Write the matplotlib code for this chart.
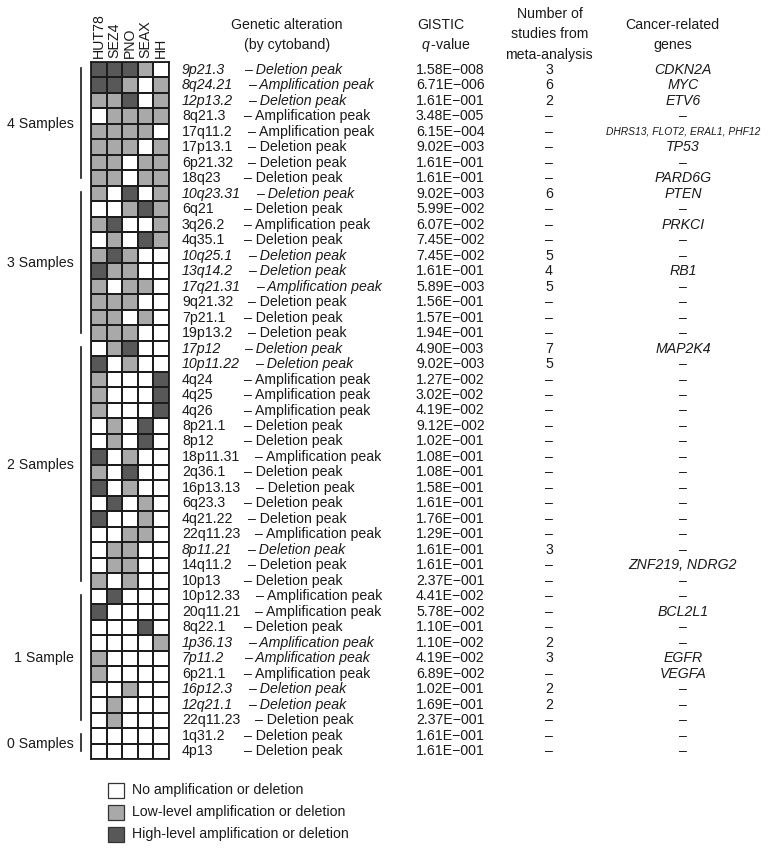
import numpy as np
import matplotlib
matplotlib.use('Agg')
import matplotlib.pyplot as plt
from matplotlib.colors import ListedColormap
from matplotlib import transforms
from matplotlib.patches import Rectangle

# ---------------- data ----------------
cell_lines = ['HUT78', 'SEZ4', 'PNO', 'SEAX', 'HH']

cytobands = ['9p21.3', '8q24.21', '12p13.2', '8q21.3', '17q11.2', '17p13.1', '6p21.32', '18q23',
             '10q23.31', '6q21', '3q26.2', '4q35.1', '10q25.1', '13q14.2', '17q21.31', '9q21.32',
             '7p21.1', '19p13.2',
             '17p12', '10p11.22', '4q24', '4q25', '4q26', '8p21.1', '8p12', '18p11.31', '2q36.1',
             '16p13.13', '6q23.3', '4q21.22', '22q11.23', '8p11.21', '14q11.2', '10p13',
             '10p12.33', '20q11.21', '8q22.1', '1p36.13', '7p11.2', '6p21.1', '16p12.3', '12q21.1',
             '22q11.23',
             '1q31.2', '4p13']

peak_types = ['Deletion', 'Amplification', 'Deletion', 'Amplification', 'Amplification', 'Deletion',
              'Deletion', 'Deletion',
              'Deletion', 'Deletion', 'Amplification', 'Deletion', 'Deletion', 'Deletion',
              'Amplification', 'Deletion', 'Deletion', 'Deletion',
              'Deletion', 'Deletion', 'Amplification', 'Amplification', 'Amplification', 'Deletion',
              'Deletion', 'Amplification', 'Deletion', 'Deletion', 'Deletion', 'Deletion',
              'Amplification', 'Deletion', 'Deletion', 'Deletion',
              'Amplification', 'Amplification', 'Deletion', 'Amplification', 'Amplification',
              'Amplification', 'Deletion', 'Deletion', 'Deletion',
              'Deletion', 'Deletion']

q_values = ['1.58E\u2212008', '6.71E\u2212006', '1.61E\u2212001', '3.48E\u2212005', '6.15E\u2212004',
            '9.02E\u2212003', '1.61E\u2212001', '1.61E\u2212001',
            '9.02E\u2212003', '5.99E\u2212002', '6.07E\u2212002', '7.45E\u2212002', '7.45E\u2212002',
            '1.61E\u2212001', '5.89E\u2212003', '1.56E\u2212001', '1.57E\u2212001', '1.94E\u2212001',
            '4.90E\u2212003', '9.02E\u2212003', '1.27E\u2212002', '3.02E\u2212002', '4.19E\u2212002',
            '9.12E\u2212002', '1.02E\u2212001', '1.08E\u2212001', '1.08E\u2212001', '1.58E\u2212001',
            '1.61E\u2212001', '1.76E\u2212001', '1.29E\u2212001', '1.61E\u2212001', '1.61E\u2212001',
            '2.37E\u2212001',
            '4.41E\u2212002', '5.78E\u2212002', '1.10E\u2212001', '1.10E\u2212002', '4.19E\u2212002',
            '6.89E\u2212002', '1.02E\u2212001', '1.69E\u2212001', '2.37E\u2212001',
            '1.61E\u2212001', '1.61E\u2212001']

studies = [3, 6, 2, None, None, None, None, None,
           6, None, None, None, 5, 4, 5, None, None, None,
           7, 5, None, None, None, None, None, None, None, None, None, None, None, 3, None, None,
           None, None, None, 2, 3, None, 2, 2, None,
           None, None]

genes = ['CDKN2A', 'MYC', 'ETV6', None, 'DHRS13, FLOT2, ERAL1, PHF12', 'TP53', None, 'PARD6G',
         'PTEN', None, 'PRKCI', None, None, 'RB1', None, None, None, None,
         'MAP2K4', None, None, None, None, None, None, None, None, None, None, None, None, None,
         'ZNF219, NDRG2', None,
         None, 'BCL2L1', None, None, 'EGFR', 'VEGFA', None, None, None,
         None, None]

# 0 = none, 1 = low-level, 2 = high-level
status = [
    [2, 2, 2, 1, 0], [2, 2, 1, 0, 1], [1, 1, 2, 0, 1], [0, 1, 1, 1, 1], [1, 1, 1, 1, 0],
    [1, 1, 1, 0, 1], [1, 1, 0, 1, 1], [1, 1, 0, 1, 1],
    [1, 0, 2, 0, 1], [0, 0, 1, 2, 1], [1, 2, 0, 0, 1], [0, 1, 0, 2, 1], [1, 2, 1, 0, 0],
    [2, 1, 1, 0, 0], [1, 0, 1, 1, 0], [1, 1, 1, 0, 0], [1, 1, 0, 1, 0], [1, 1, 1, 0, 0],
    [0, 1, 2, 0, 0], [2, 0, 1, 0, 0], [1, 0, 0, 0, 2], [1, 0, 0, 0, 2], [1, 0, 0, 0, 2],
    [0, 1, 0, 2, 0], [0, 1, 0, 2, 0], [2, 0, 1, 0, 0], [1, 0, 2, 0, 0], [2, 0, 1, 0, 0],
    [0, 2, 0, 1, 0], [2, 0, 0, 1, 0], [0, 0, 1, 1, 0], [0, 1, 1, 0, 0], [0, 1, 1, 0, 0],
    [1, 0, 1, 0, 0],
    [0, 2, 0, 0, 0], [2, 0, 0, 0, 0], [0, 0, 0, 2, 0], [0, 0, 0, 0, 1], [1, 0, 0, 0, 0],
    [1, 0, 0, 0, 0], [0, 0, 1, 0, 0], [0, 1, 0, 0, 0], [0, 1, 0, 0, 0],
    [0, 0, 0, 0, 0], [0, 0, 0, 0, 0],
]

legend_labels = ['No amplification or deletion', 'Low-level amplification or deletion',
                 'High-level amplification or deletion']

# ---------------- style ----------------
plt.rcParams['font.family'] = ['Liberation Sans', 'DejaVu Sans']
plt.rcParams['mathtext.fontset'] = 'custom'
plt.rcParams['mathtext.it'] = 'Liberation Sans:italic'
plt.rcParams['mathtext.rm'] = 'Liberation Sans'

colors = ['#ffffff', '#a9a9a9', '#585858']
edge = '#1c1c1c'
tc = '#1a1a1a'
FS = 10.2

W, H = 771, 852
fig = plt.figure(figsize=(W / 100, H / 100), dpi=100)


def fx(px):
    return px / W


def fy(py):
    return 1 - py / H


top, bot = 62, 759
ax = fig.add_axes([fx(91), fy(bot), (168.5 - 91) / W, (bot - top) / H])
mat = np.array(status)
n = mat.shape[0]
ax.pcolormesh(mat, cmap=ListedColormap(colors), vmin=-0.5, vmax=2.5,
              edgecolors=edge, linewidth=1.2)
ax.set_xlim(0, mat.shape[1])
ax.set_ylim(n, 0)
ax.xaxis.tick_top()
ax.set_xticks(np.arange(len(cell_lines)) + 0.5)
ax.set_xticklabels(cell_lines, rotation=90, fontsize=FS, color=tc)
ax.set_yticks([])
ax.tick_params(length=0, pad=3)
for s in ax.spines.values():
    s.set_linewidth(1.3)
    s.set_color(edge)

trans = transforms.blended_transform_factory(fig.transFigure, ax.transData)
renderer = fig.canvas.get_renderer()

# ---------------- row texts ----------------
for i in range(n):
    y = i + 0.5
    st = 'italic' if studies[i] is not None else 'normal'
    t = fig.text(fx(182), y, cytobands[i], transform=trans, ha='left', va='center',
                 fontsize=FS, style=st, color=tc)
    x1 = t.get_window_extent(renderer).x1
    xd = max(x1 + 15, 244)
    fig.text(fx(xd), y, '\u2013 ' + peak_types[i] + ' peak', transform=trans, ha='left',
             va='center', fontsize=FS, style=st, color=tc)
    fig.text(fx(416), y, q_values[i], transform=trans, ha='left', va='center',
             fontsize=FS, color=tc)
    fig.text(fx(549), y, '\u2013' if studies[i] is None else str(studies[i]), transform=trans,
             ha='center', va='center', fontsize=FS, color=tc)
    g = genes[i]
    if g is None:
        fig.text(fx(683), y, '\u2013', transform=trans, ha='center', va='center',
                 fontsize=FS, color=tc)
    else:
        fs = 7.4 if len(g) > 20 else FS
        fig.text(fx(683), y, g, transform=trans, ha='center', va='center',
                 fontsize=fs, style='italic', color=tc)

# ---------------- headers ----------------
def htext(px, py, s):
    fig.text(fx(px), fy(py), s, ha='center', va='center', fontsize=FS, color=tc)


htext(287, 25, 'Genetic alteration')
htext(287, 45, '(by cytoband)')
htext(441, 25, 'GISTIC')
htext(446, 45, r'$q\,$-value')
htext(550, 14, 'Number of')
htext(550, 34, 'studies from')
htext(549, 55, 'meta-analysis')
htext(672, 25, 'Cancer-related')
htext(673, 45, 'genes')

# ---------------- sample brackets ----------------
counts = (mat > 0).sum(axis=1)
for c in sorted(set(counts.tolist()), reverse=True):
    idx = np.where(counts == c)[0]
    y0, y1 = idx[0], idx[-1] + 1
    ax.plot([fx(81), fx(81)], [y0 + 0.4, y1 - 0.5], transform=trans, color=tc,
            lw=1.2, clip_on=False)
    lab = '%d Sample%s' % (c, '' if c == 1 else 's')
    fig.text(fx(74), (y0 + y1) / 2, lab, transform=trans, ha='right', va='center',
             fontsize=FS, color=tc)

# ---------------- legend ----------------
for k, (col, lab) in enumerate(zip(colors, legend_labels)):
    yc = 790 + 22 * k
    fig.patches.append(Rectangle((fx(108), fy(yc + 7.5)), 16 / W, 15 / H,
                                 transform=fig.transFigure, facecolor=col,
                                 edgecolor='#333333', lw=0.9))
    fig.text(fx(132), fy(yc), lab, ha='left', va='center', fontsize=FS, color=tc)

fig.savefig('out.png', dpi=100)
